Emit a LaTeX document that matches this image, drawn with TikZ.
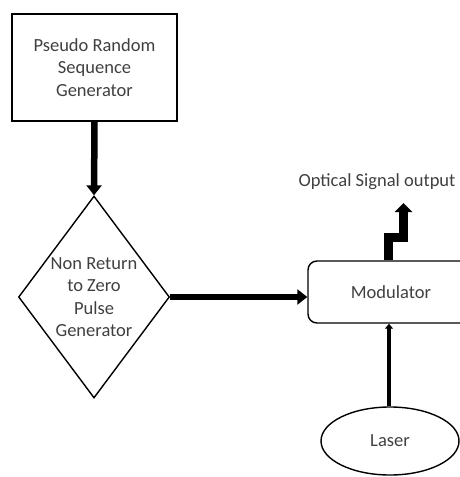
\documentclass[tikz,border=0pt]{standalone}
\usepackage{fontspec}
\setmainfont{Carlito}
\usetikzlibrary{arrows.meta, shapes.geometric}
\begin{document}
\begin{tikzpicture}[x=1pt, y=-1pt, line join=miter,
		every node/.style={font=\fontsize{18.5}{22.5}\selectfont, text=black!75, align=center},
		blockbox/.style={draw, line width=1.8pt, minimum width=165pt, minimum height=107pt},
		flow/.style={line width=6.5pt, -{Triangle[width=15pt, length=10pt]}}]
	\useasboundingbox (0,0) rectangle (459,477);
	
	% 伪随机序列发生器
	\node[blockbox] (prbs) at (94.5,67.5) {Pseudo Random\\Sequence\\Generator};
	
	% 非归零脉冲发生器
	\node[draw, diamond, line width=1.4pt, inner sep=0pt, aspect=0.75,
		minimum width=151pt, minimum height=202pt] (nrz) at (94,297) {Non Return\\to Zero\\Pulse\\Generator};
	
	% 调制器与激光器 (右边被裁掉)
	\node[draw, rounded corners=9pt, line width=1.4pt, minimum width=166pt, minimum height=62pt] (mod) at (391,292) {Modulator};
	\node[draw, ellipse, line width=1.4pt, minimum width=138pt, minimum height=68pt] (laser) at (390,441) {Laser};
	
	% 输出标签
	\node[inner sep=1pt] (out) at (377,182) {Optical Signal output};
	
	% 连线
	\draw[flow] (prbs.south) -- (nrz.north);
	\draw[flow, line width=6pt] (nrz.east) -- (nrz.east -| mod.west);
	\draw[line width=4.5pt, -{Triangle[width=8pt, length=5pt]}] (laser.north -| 389,0) -- (mod.south -| 389,0);
	
	% 光信号输出折线
	\coordinate (bend1) at (388,237);
	\coordinate (bend2) at (403.5,237);
	\coordinate (tip) at (403.5,203);
	\draw[line width=9pt, -{Triangle[width=17pt, length=9pt]}] (mod.north -| bend1) -- (bend1) -- (bend2) -- (tip);
\end{tikzpicture}
\end{document}
